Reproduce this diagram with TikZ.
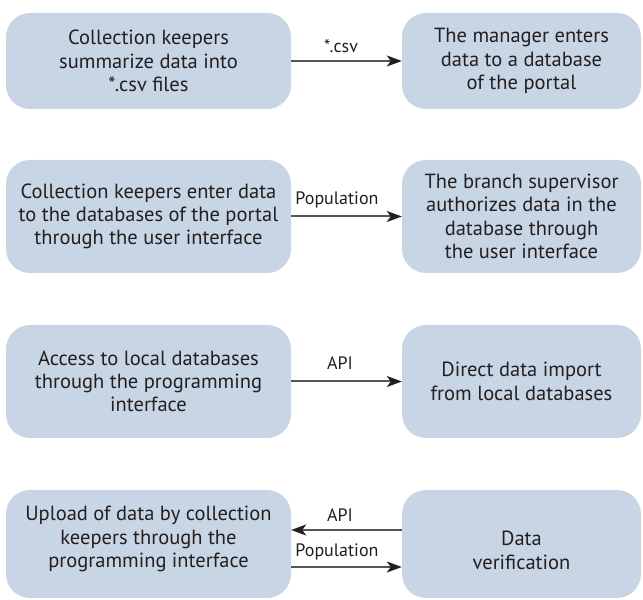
\documentclass[tikz,border=0pt]{standalone}
\usepackage{fontspec}
\setmainfont{PT Sans}
\usetikzlibrary{arrows.meta}
\definecolor{boxfill}{RGB}{200,213,228}
\definecolor{txt}{RGB}{35,31,32}
\definecolor{linegray}{RGB}{85,85,87}
\begin{document}
\begin{tikzpicture}[x=1pt,y=1pt,
  box/.style={fill=boxfill, draw=none, rounded corners=24pt, align=center,
    text=txt, font=\fontsize{20.5}{23.3}\selectfont, inner sep=0pt},
  lbox/.style={box, minimum width=285pt},
  rbox/.style={box, minimum width=239pt},
  boxtext/.style={align=center, text=txt, font=\fontsize{20.5}{23.3}\selectfont, inner sep=0pt},
  arr/.style={draw=linegray, line width=2pt,
    -{Stealth[length=15pt,width=11pt,inset=4pt,color=txt]}},
  lab/.style={text=txt, font=\fontsize{18}{21}\selectfont, inner sep=0pt}]
\useasboundingbox (0,0) rectangle (643,600);
% row 1
\node[lbox, minimum height=96pt] (l1) at (148.5,539) {Collection keepers\\summarize data into\\*.csv files};
\node[rbox, minimum height=96pt] (r1) at (521.5,539) {The manager enters\\data to a database\\of the portal};
\draw[arr] (l1.east) -- (r1.west);
\node[lab] (t1) at (341,554) {*.csv};
% row 2
\node[lbox, minimum height=113pt] (l2) at (148.5,383.5) {Collection keepers enter data\\to the databases of the portal\\through the user interface};
\node[rbox, minimum height=113pt] (r2) at (521.5,383.5) {The branch supervisor\\authorizes data in the\\database through\\the user interface};
\draw[arr] (l2.east) -- (r2.west);
\node[lab] (t2) at (337,400) {Population};
% row 3
\node[lbox, minimum height=113pt] (l3) at (148.5,218.5) {Access to local databases\\through the programming\\interface};
\node[rbox, minimum height=113pt] (r3) at (521.5,218.5) {Direct data import\\from local databases};
\draw[arr] (l3.east) -- (r3.west);
\node[lab] (t3) at (340,237) {API};
% row 4
\node[lbox, minimum height=108pt] (l4) at (148.5,56) {};
\node[rbox, minimum height=108pt] (r4) at (521.5,56) {};
\node[boxtext] (l4t) at (148.5,61) {Upload of data by collection\\keepers through the\\programming interface};
\node[boxtext] (r4t) at (521.5,49.5) {Data\\verification};
\draw[arr] ([yshift=14pt]r4.west) -- ([yshift=14pt]l4.east);
\draw[arr] ([yshift=-23pt]l4.east) -- ([yshift=-23pt]r4.west);
\node[lab] (t4) at (340,85) {API};
\node[lab] (t5) at (337,48) {Population};
\end{tikzpicture}
\end{document}
